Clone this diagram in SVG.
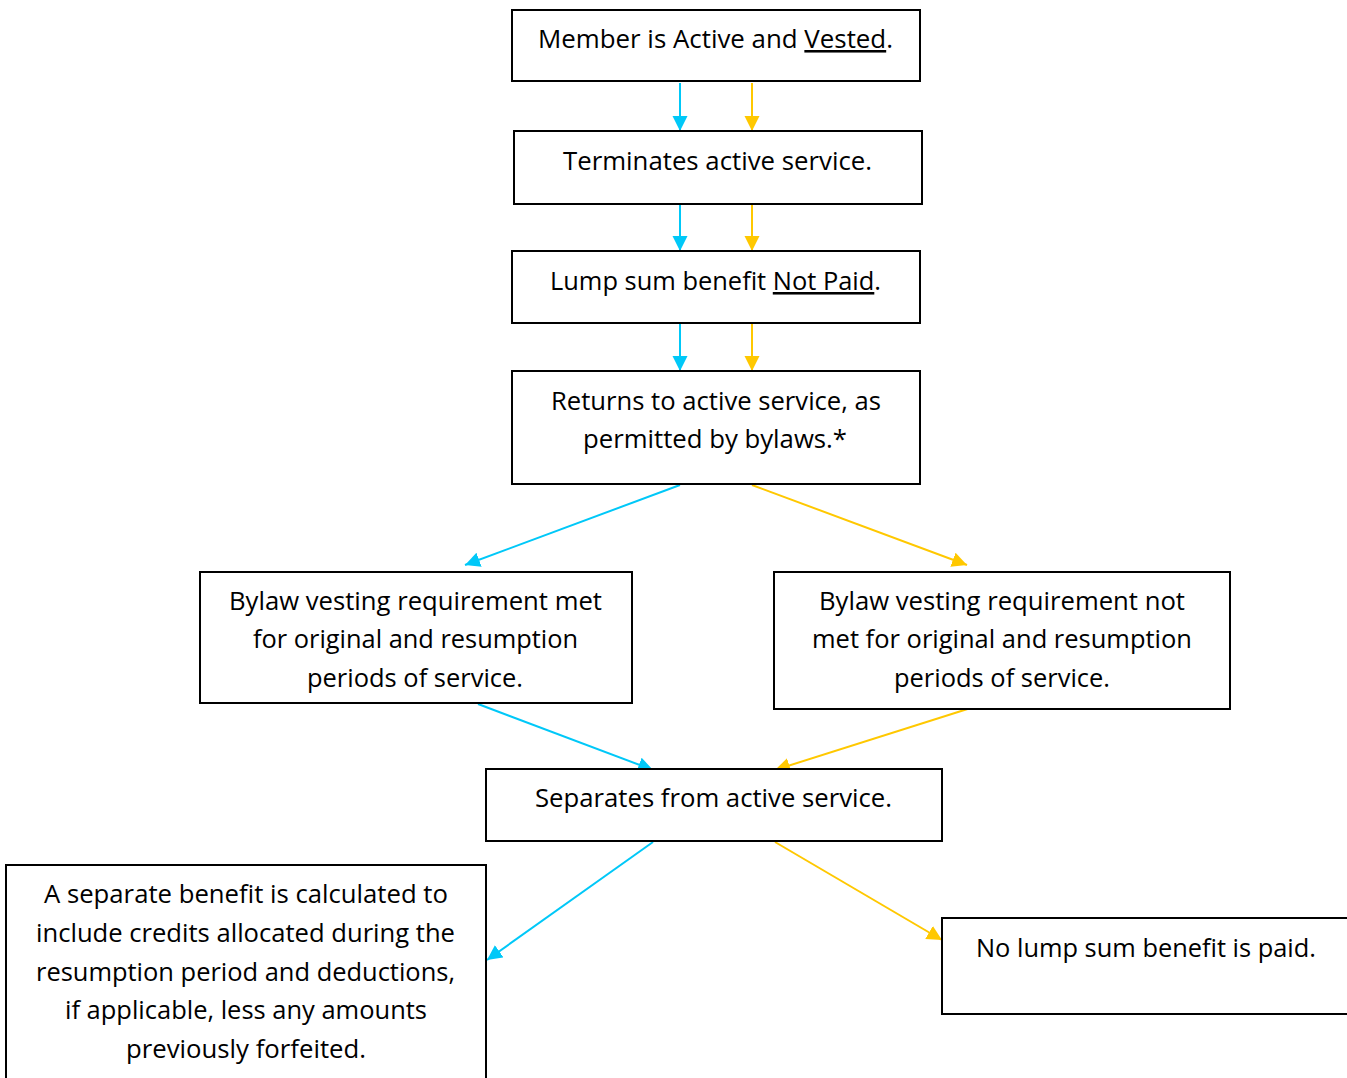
<svg xmlns="http://www.w3.org/2000/svg" width="1347" height="1078" viewBox="0 0 1347 1078">
  <style>
    .box { fill: #ffffff; stroke: #000000; stroke-width: 2; }
    .lbl { font-family: "Open Sans", "Liberation Sans", sans-serif; font-size: 25.5px; fill: #000000; text-anchor: middle; }
    .u { text-decoration: underline; }
    .cy { stroke: #00C8F8; stroke-width: 2; fill: none; marker-end: url(#headCyan); }
    .yl { stroke: #FFC800; stroke-width: 2; fill: none; marker-end: url(#headGold); }
  </style>
  <defs>
    <marker id="headCyan" markerUnits="userSpaceOnUse" markerWidth="16" markerHeight="16" refX="15" refY="7.5" orient="auto">
      <path d="M0,0 L15,7.5 L0,15 z" fill="#00C8F8"/>
    </marker>
    <marker id="headGold" markerUnits="userSpaceOnUse" markerWidth="16" markerHeight="16" refX="15" refY="7.5" orient="auto">
      <path d="M0,0 L15,7.5 L0,15 z" fill="#FFC800"/>
    </marker>
  </defs>

  <rect width="1347" height="1078" fill="#ffffff"/>

  <g id="connectors">
    <path class="cy" d="M680,83 V131"/>
    <path class="yl" d="M752,83 V131"/>
    <path class="cy" d="M680,205 V251"/>
    <path class="yl" d="M752,205 V251"/>
    <path class="cy" d="M680,324 V371"/>
    <path class="yl" d="M752,324 V371"/>
    <path class="cy" d="M680,485 L465,565"/>
    <path class="yl" d="M752,485 L967,565"/>
    <path class="cy" d="M478,704 L653,770"/>
    <path class="yl" d="M977,706 L775,770"/>
    <path class="cy" d="M653,842 L487,960"/>
    <path class="yl" d="M775,842 L942,940"/>
  </g>

  <g id="member-active">
    <rect class="box" x="512" y="10" width="408" height="71"/>
    <text class="lbl" x="715.5" y="48" textLength="355" lengthAdjust="spacingAndGlyphs">Member is Active and <tspan class="u">Vested</tspan>.</text>
  </g>

  <g id="terminates">
    <rect class="box" x="514" y="131" width="408" height="73"/>
    <text class="lbl" x="717.5" y="170" textLength="309" lengthAdjust="spacingAndGlyphs">Terminates active service.</text>
  </g>

  <g id="not-paid">
    <rect class="box" x="512" y="251" width="408" height="72"/>
    <text class="lbl" x="715.5" y="290" textLength="331" lengthAdjust="spacingAndGlyphs">Lump sum benefit <tspan class="u">Not Paid</tspan>.</text>
  </g>

  <g id="returns">
    <rect class="box" x="512" y="371" width="408" height="113"/>
    <text class="lbl" x="716" y="410" textLength="330" lengthAdjust="spacingAndGlyphs">Returns to active service, as</text>
    <text class="lbl" x="715" y="448" textLength="264" lengthAdjust="spacingAndGlyphs">permitted by bylaws.*</text>
  </g>

  <g id="vesting-met">
    <rect class="box" x="200" y="572" width="432" height="131"/>
    <text class="lbl" x="415.5" y="610" textLength="373" lengthAdjust="spacingAndGlyphs">Bylaw vesting requirement met</text>
    <text class="lbl" x="415.5" y="648" textLength="325" lengthAdjust="spacingAndGlyphs">for original and resumption</text>
    <text class="lbl" x="415" y="687" textLength="216" lengthAdjust="spacingAndGlyphs">periods of service.</text>
  </g>

  <g id="vesting-not-met">
    <rect class="box" x="774" y="572" width="456" height="137"/>
    <text class="lbl" x="1002" y="610" textLength="366" lengthAdjust="spacingAndGlyphs">Bylaw vesting requirement not</text>
    <text class="lbl" x="1002" y="648" textLength="380" lengthAdjust="spacingAndGlyphs">met for original and resumption</text>
    <text class="lbl" x="1002" y="687" textLength="216" lengthAdjust="spacingAndGlyphs">periods of service.</text>
  </g>

  <g id="separates">
    <rect class="box" x="486" y="769" width="456" height="72"/>
    <text class="lbl" x="713.5" y="807" textLength="357" lengthAdjust="spacingAndGlyphs">Separates from active service.</text>
  </g>

  <g id="separate-benefit">
    <rect class="box" x="6" y="865" width="480" height="220"/>
    <text class="lbl" x="246" y="903" textLength="404" lengthAdjust="spacingAndGlyphs">A separate benefit is calculated to</text>
    <text class="lbl" x="245.5" y="942" textLength="419" lengthAdjust="spacingAndGlyphs">include credits allocated during the</text>
    <text class="lbl" x="245.5" y="981" textLength="419" lengthAdjust="spacingAndGlyphs">resumption period and deductions,</text>
    <text class="lbl" x="246" y="1019" textLength="362" lengthAdjust="spacingAndGlyphs">if applicable, less any amounts</text>
    <text class="lbl" x="246" y="1058" textLength="240" lengthAdjust="spacingAndGlyphs">previously forfeited.</text>
  </g>

  <g id="no-lump-sum">
    <rect class="box" x="942" y="918" width="420" height="96"/>
    <text class="lbl" x="1146" y="957" textLength="340" lengthAdjust="spacingAndGlyphs">No lump sum benefit is paid.</text>
  </g>
</svg>
